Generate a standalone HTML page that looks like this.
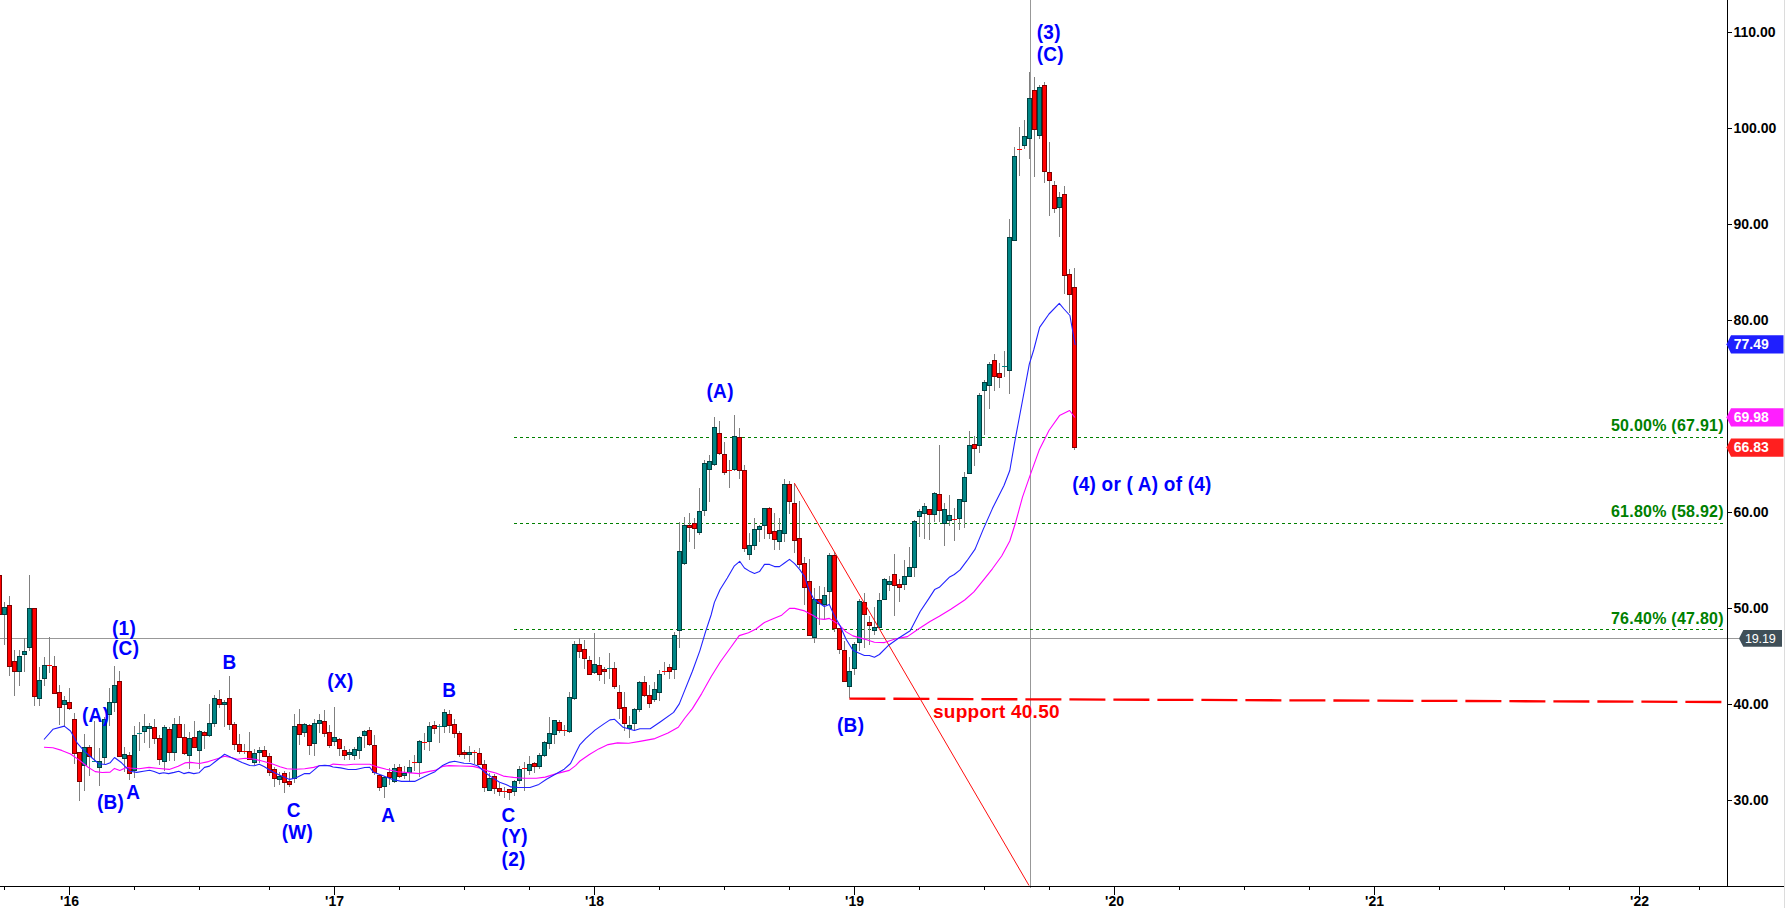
<!DOCTYPE html><html><head><meta charset="utf-8"><title>chart</title><style>
html,body{margin:0;padding:0;background:#fff;}body{width:1786px;height:908px;overflow:hidden;}
svg{display:block;font-family:"Liberation Sans",sans-serif;}
.b{font-weight:bold;font-size:19px;fill:#0000ff;letter-spacing:0.3px}
.g{font-weight:bold;font-size:16px;fill:#008000;letter-spacing:0.25px}
.ax{font-weight:bold;font-size:14px;fill:#000}
.w{font-weight:bold;font-size:14px;fill:#fff}
</style></head><body>
<svg width="1786" height="908" viewBox="0 0 1786 908">
<rect width="1786" height="908" fill="#fff"/>
<rect x="1784" y="0" width="1" height="908" fill="#dcdcdc"/>
<g shape-rendering="crispEdges">
<rect x="0" y="638" width="1739" height="1" fill="#989898"/>
<rect x="1030" y="0" width="1" height="888" fill="#989898"/>
<line x1="514" y1="437.5" x2="1725" y2="437.5" stroke="#008000" stroke-width="1" stroke-dasharray="3 3"/>
<line x1="514" y1="523.5" x2="1725" y2="523.5" stroke="#008000" stroke-width="1" stroke-dasharray="3 3"/>
<line x1="514" y1="629.5" x2="1725" y2="629.5" stroke="#008000" stroke-width="1" stroke-dasharray="3 3"/>
</g>
<g shape-rendering="crispEdges" fill="#808080"><rect x="4" y="602" width="1" height="43"/><rect x="9" y="596" width="1" height="80"/><rect x="14" y="650" width="1" height="46"/><rect x="19" y="650" width="1" height="36"/><rect x="24" y="638" width="1" height="34"/><rect x="29" y="575" width="1" height="76"/><rect x="34" y="608" width="1" height="98"/><rect x="39" y="667" width="1" height="39"/><rect x="44" y="657" width="1" height="29"/><rect x="49" y="637" width="1" height="36"/><rect x="54" y="656" width="1" height="38"/><rect x="59" y="685" width="1" height="40"/><rect x="64" y="696" width="1" height="30"/><rect x="69" y="688" width="1" height="22"/><rect x="74" y="713" width="1" height="51"/><rect x="79" y="752" width="1" height="49"/><rect x="84" y="734" width="1" height="57"/><rect x="89" y="745" width="1" height="31"/><rect x="94" y="721" width="1" height="40"/><rect x="99" y="748" width="1" height="38"/><rect x="104" y="717" width="1" height="47"/><rect x="109" y="688" width="1" height="38"/><rect x="114" y="666" width="1" height="46"/><rect x="119" y="671" width="1" height="86"/><rect x="124" y="747" width="1" height="25"/><rect x="129" y="752" width="1" height="28"/><rect x="134" y="726" width="1" height="52"/><rect x="139" y="722" width="1" height="29"/><rect x="144" y="714" width="1" height="29"/><rect x="149" y="723" width="1" height="25"/><rect x="154" y="719" width="1" height="25"/><rect x="159" y="735" width="1" height="30"/><rect x="164" y="725" width="1" height="46"/><rect x="169" y="727" width="1" height="34"/><rect x="174" y="718" width="1" height="43"/><rect x="179" y="716" width="1" height="22"/><rect x="184" y="724" width="1" height="31"/><rect x="189" y="732" width="1" height="37"/><rect x="194" y="721" width="1" height="27"/><rect x="199" y="730" width="1" height="39"/><rect x="204" y="731" width="1" height="18"/><rect x="209" y="704" width="1" height="33"/><rect x="214" y="695" width="1" height="32"/><rect x="219" y="690" width="1" height="18"/><rect x="224" y="700" width="1" height="27"/><rect x="229" y="676" width="1" height="54"/><rect x="234" y="722" width="1" height="28"/><rect x="239" y="734" width="1" height="20"/><rect x="244" y="744" width="1" height="10"/><rect x="249" y="732" width="1" height="27"/><rect x="254" y="749" width="1" height="16"/><rect x="259" y="747" width="1" height="16"/><rect x="264" y="746" width="1" height="11"/><rect x="269" y="753" width="1" height="23"/><rect x="274" y="767" width="1" height="20"/><rect x="279" y="772" width="1" height="13"/><rect x="284" y="771" width="1" height="22"/><rect x="289" y="772" width="1" height="15"/><rect x="294" y="714" width="1" height="69"/><rect x="299" y="709" width="1" height="36"/><rect x="304" y="723" width="1" height="14"/><rect x="309" y="724" width="1" height="31"/><rect x="314" y="719" width="1" height="37"/><rect x="319" y="714" width="1" height="19"/><rect x="324" y="710" width="1" height="27"/><rect x="329" y="725" width="1" height="23"/><rect x="334" y="707" width="1" height="39"/><rect x="339" y="738" width="1" height="18"/><rect x="344" y="746" width="1" height="14"/><rect x="349" y="749" width="1" height="11"/><rect x="354" y="747" width="1" height="13"/><rect x="359" y="736" width="1" height="23"/><rect x="364" y="730" width="1" height="18"/><rect x="369" y="727" width="1" height="19"/><rect x="374" y="735" width="1" height="40"/><rect x="379" y="775" width="1" height="16"/><rect x="384" y="776" width="1" height="22"/><rect x="389" y="768" width="1" height="17"/><rect x="394" y="764" width="1" height="19"/><rect x="399" y="764" width="1" height="14"/><rect x="404" y="766" width="1" height="13"/><rect x="409" y="760" width="1" height="21"/><rect x="414" y="755" width="1" height="16"/><rect x="419" y="740" width="1" height="37"/><rect x="424" y="733" width="1" height="17"/><rect x="429" y="722" width="1" height="29"/><rect x="434" y="721" width="1" height="13"/><rect x="439" y="724" width="1" height="19"/><rect x="444" y="709" width="1" height="24"/><rect x="449" y="710" width="1" height="23"/><rect x="454" y="719" width="1" height="19"/><rect x="459" y="731" width="1" height="26"/><rect x="464" y="750" width="1" height="9"/><rect x="469" y="746" width="1" height="16"/><rect x="474" y="750" width="1" height="14"/><rect x="479" y="748" width="1" height="17"/><rect x="484" y="760" width="1" height="32"/><rect x="489" y="773" width="1" height="17"/><rect x="494" y="774" width="1" height="20"/><rect x="499" y="783" width="1" height="13"/><rect x="504" y="787" width="1" height="11"/><rect x="509" y="789" width="1" height="11"/><rect x="514" y="780" width="1" height="16"/><rect x="519" y="766" width="1" height="18"/><rect x="524" y="762" width="1" height="29"/><rect x="529" y="756" width="1" height="19"/><rect x="534" y="762" width="1" height="11"/><rect x="539" y="753" width="1" height="16"/><rect x="544" y="741" width="1" height="16"/><rect x="549" y="717" width="1" height="32"/><rect x="554" y="720" width="1" height="24"/><rect x="559" y="720" width="1" height="13"/><rect x="564" y="725" width="1" height="11"/><rect x="569" y="692" width="1" height="41"/><rect x="574" y="641" width="1" height="59"/><rect x="579" y="638" width="1" height="20"/><rect x="584" y="640" width="1" height="29"/><rect x="589" y="656" width="1" height="18"/><rect x="594" y="633" width="1" height="41"/><rect x="599" y="657" width="1" height="24"/><rect x="604" y="667" width="1" height="17"/><rect x="609" y="653" width="1" height="26"/><rect x="614" y="662" width="1" height="27"/><rect x="619" y="685" width="1" height="34"/><rect x="624" y="692" width="1" height="39"/><rect x="629" y="716" width="1" height="22"/><rect x="634" y="708" width="1" height="22"/><rect x="639" y="681" width="1" height="31"/><rect x="644" y="676" width="1" height="21"/><rect x="649" y="685" width="1" height="23"/><rect x="654" y="682" width="1" height="20"/><rect x="659" y="670" width="1" height="31"/><rect x="664" y="662" width="1" height="13"/><rect x="669" y="664" width="1" height="15"/><rect x="674" y="632" width="1" height="47"/><rect x="679" y="522" width="1" height="126"/><rect x="684" y="517" width="1" height="48"/><rect x="689" y="513" width="1" height="29"/><rect x="694" y="518" width="1" height="31"/><rect x="699" y="488" width="1" height="47"/><rect x="704" y="460" width="1" height="56"/><rect x="709" y="455" width="1" height="47"/><rect x="714" y="417" width="1" height="49"/><rect x="719" y="421" width="1" height="34"/><rect x="724" y="442" width="1" height="33"/><rect x="729" y="460" width="1" height="28"/><rect x="734" y="415" width="1" height="56"/><rect x="739" y="428" width="1" height="51"/><rect x="744" y="465" width="1" height="87"/><rect x="749" y="533" width="1" height="27"/><rect x="754" y="518" width="1" height="32"/><rect x="759" y="525" width="1" height="17"/><rect x="764" y="508" width="1" height="31"/><rect x="769" y="507" width="1" height="32"/><rect x="774" y="513" width="1" height="37"/><rect x="779" y="518" width="1" height="32"/><rect x="784" y="479" width="1" height="63"/><rect x="789" y="481" width="1" height="33"/><rect x="794" y="484" width="1" height="69"/><rect x="799" y="501" width="1" height="67"/><rect x="804" y="557" width="1" height="48"/><rect x="809" y="559" width="1" height="76"/><rect x="814" y="588" width="1" height="55"/><rect x="819" y="586" width="1" height="39"/><rect x="824" y="587" width="1" height="32"/><rect x="829" y="553" width="1" height="52"/><rect x="834" y="552" width="1" height="80"/><rect x="839" y="628" width="1" height="26"/><rect x="844" y="641" width="1" height="41"/><rect x="849" y="657" width="1" height="41"/><rect x="854" y="642" width="1" height="33"/><rect x="859" y="599" width="1" height="52"/><rect x="864" y="593" width="1" height="55"/><rect x="869" y="616" width="1" height="29"/><rect x="874" y="607" width="1" height="28"/><rect x="879" y="593" width="1" height="35"/><rect x="884" y="578" width="1" height="22"/><rect x="889" y="576" width="1" height="15"/><rect x="894" y="554" width="1" height="62"/><rect x="899" y="579" width="1" height="23"/><rect x="904" y="560" width="1" height="30"/><rect x="909" y="547" width="1" height="29"/><rect x="914" y="520" width="1" height="57"/><rect x="919" y="509" width="1" height="28"/><rect x="924" y="503" width="1" height="36"/><rect x="929" y="509" width="1" height="31"/><rect x="934" y="492" width="1" height="30"/><rect x="939" y="445" width="1" height="77"/><rect x="944" y="503" width="1" height="43"/><rect x="949" y="495" width="1" height="31"/><rect x="954" y="508" width="1" height="33"/><rect x="959" y="499" width="1" height="31"/><rect x="964" y="472" width="1" height="56"/><rect x="969" y="431" width="1" height="43"/><rect x="974" y="436" width="1" height="30"/><rect x="979" y="393" width="1" height="60"/><rect x="984" y="380" width="1" height="55"/><rect x="989" y="362" width="1" height="47"/><rect x="994" y="354" width="1" height="37"/><rect x="999" y="363" width="1" height="25"/><rect x="1004" y="351" width="1" height="26"/><rect x="1009" y="219" width="1" height="175"/><rect x="1014" y="147" width="1" height="94"/><rect x="1019" y="127" width="1" height="49"/><rect x="1024" y="120" width="1" height="29"/><rect x="1029" y="72" width="1" height="87"/><rect x="1034" y="77" width="1" height="100"/><rect x="1039" y="85" width="1" height="54"/><rect x="1044" y="82" width="1" height="101"/><rect x="1049" y="142" width="1" height="74"/><rect x="1054" y="181" width="1" height="32"/><rect x="1059" y="192" width="1" height="45"/><rect x="1064" y="186" width="1" height="108"/><rect x="1069" y="269" width="1" height="44"/><rect x="1074" y="268" width="1" height="182"/></g>
<g shape-rendering="crispEdges"><rect x="-3" y="575" width="5" height="40" fill="#800000"/><rect x="-2" y="576" width="3" height="38" fill="#ff0000"/><rect x="2" y="607" width="5" height="8" fill="#004040"/><rect x="3" y="608" width="3" height="6" fill="#008585"/><rect x="7" y="605" width="5" height="62" fill="#800000"/><rect x="8" y="606" width="3" height="60" fill="#ff0000"/><rect x="12" y="661" width="5" height="11" fill="#800000"/><rect x="13" y="662" width="3" height="9" fill="#ff0000"/><rect x="17" y="656" width="5" height="16" fill="#004040"/><rect x="18" y="657" width="3" height="14" fill="#008585"/><rect x="22" y="651" width="5" height="4" fill="#004040"/><rect x="23" y="652" width="3" height="2" fill="#008585"/><rect x="27" y="608" width="5" height="40" fill="#004040"/><rect x="28" y="609" width="3" height="38" fill="#008585"/><rect x="32" y="608" width="5" height="89" fill="#800000"/><rect x="33" y="609" width="3" height="87" fill="#ff0000"/><rect x="37" y="680" width="5" height="19" fill="#004040"/><rect x="38" y="681" width="3" height="17" fill="#008585"/><rect x="42" y="665" width="5" height="14" fill="#004040"/><rect x="43" y="666" width="3" height="12" fill="#008585"/><rect x="47" y="665" width="5" height="1" fill="#ff0000"/><rect x="52" y="666" width="5" height="28" fill="#800000"/><rect x="53" y="667" width="3" height="26" fill="#ff0000"/><rect x="57" y="692" width="5" height="16" fill="#800000"/><rect x="58" y="693" width="3" height="14" fill="#ff0000"/><rect x="62" y="700" width="5" height="5" fill="#004040"/><rect x="63" y="701" width="3" height="3" fill="#008585"/><rect x="67" y="702" width="5" height="7" fill="#800000"/><rect x="68" y="703" width="3" height="5" fill="#ff0000"/><rect x="72" y="719" width="5" height="35" fill="#800000"/><rect x="73" y="720" width="3" height="33" fill="#ff0000"/><rect x="77" y="752" width="5" height="30" fill="#800000"/><rect x="78" y="753" width="3" height="28" fill="#ff0000"/><rect x="82" y="747" width="5" height="19" fill="#004040"/><rect x="83" y="748" width="3" height="17" fill="#008585"/><rect x="87" y="747" width="5" height="10" fill="#800000"/><rect x="88" y="748" width="3" height="8" fill="#ff0000"/><rect x="92" y="761" width="5" height="1" fill="#008585"/><rect x="97" y="761" width="5" height="7" fill="#004040"/><rect x="98" y="762" width="3" height="5" fill="#008585"/><rect x="102" y="719" width="5" height="39" fill="#004040"/><rect x="103" y="720" width="3" height="37" fill="#008585"/><rect x="107" y="702" width="5" height="13" fill="#004040"/><rect x="108" y="703" width="3" height="11" fill="#008585"/><rect x="112" y="685" width="5" height="18" fill="#004040"/><rect x="113" y="686" width="3" height="16" fill="#008585"/><rect x="117" y="681" width="5" height="76" fill="#800000"/><rect x="118" y="682" width="3" height="74" fill="#ff0000"/><rect x="122" y="754" width="5" height="5" fill="#004040"/><rect x="123" y="755" width="3" height="3" fill="#008585"/><rect x="127" y="755" width="5" height="19" fill="#800000"/><rect x="128" y="756" width="3" height="17" fill="#ff0000"/><rect x="132" y="735" width="5" height="36" fill="#004040"/><rect x="133" y="736" width="3" height="34" fill="#008585"/><rect x="137" y="733" width="5" height="1" fill="#008585"/><rect x="142" y="726" width="5" height="6" fill="#004040"/><rect x="143" y="727" width="3" height="4" fill="#008585"/><rect x="147" y="726" width="5" height="3" fill="#004040"/><rect x="148" y="727" width="3" height="1" fill="#008585"/><rect x="152" y="727" width="5" height="12" fill="#800000"/><rect x="153" y="728" width="3" height="10" fill="#ff0000"/><rect x="157" y="738" width="5" height="22" fill="#800000"/><rect x="158" y="739" width="3" height="20" fill="#ff0000"/><rect x="162" y="727" width="5" height="35" fill="#004040"/><rect x="163" y="728" width="3" height="33" fill="#008585"/><rect x="167" y="729" width="5" height="24" fill="#800000"/><rect x="168" y="730" width="3" height="22" fill="#ff0000"/><rect x="172" y="724" width="5" height="29" fill="#004040"/><rect x="173" y="725" width="3" height="27" fill="#008585"/><rect x="177" y="724" width="5" height="14" fill="#800000"/><rect x="178" y="725" width="3" height="12" fill="#ff0000"/><rect x="182" y="737" width="5" height="17" fill="#800000"/><rect x="183" y="738" width="3" height="15" fill="#ff0000"/><rect x="187" y="738" width="5" height="18" fill="#004040"/><rect x="188" y="739" width="3" height="16" fill="#008585"/><rect x="192" y="737" width="5" height="11" fill="#800000"/><rect x="193" y="738" width="3" height="9" fill="#ff0000"/><rect x="197" y="731" width="5" height="20" fill="#004040"/><rect x="198" y="732" width="3" height="18" fill="#008585"/><rect x="202" y="732" width="5" height="4" fill="#800000"/><rect x="203" y="733" width="3" height="2" fill="#ff0000"/><rect x="207" y="723" width="5" height="13" fill="#004040"/><rect x="208" y="724" width="3" height="11" fill="#008585"/><rect x="212" y="698" width="5" height="26" fill="#004040"/><rect x="213" y="699" width="3" height="24" fill="#008585"/><rect x="217" y="699" width="5" height="6" fill="#800000"/><rect x="218" y="700" width="3" height="4" fill="#ff0000"/><rect x="222" y="702" width="5" height="3" fill="#004040"/><rect x="223" y="703" width="3" height="1" fill="#008585"/><rect x="227" y="698" width="5" height="27" fill="#800000"/><rect x="228" y="699" width="3" height="25" fill="#ff0000"/><rect x="232" y="724" width="5" height="21" fill="#800000"/><rect x="233" y="725" width="3" height="19" fill="#ff0000"/><rect x="237" y="744" width="5" height="8" fill="#800000"/><rect x="238" y="745" width="3" height="6" fill="#ff0000"/><rect x="242" y="751" width="5" height="1" fill="#ff0000"/><rect x="247" y="751" width="5" height="9" fill="#800000"/><rect x="248" y="752" width="3" height="7" fill="#ff0000"/><rect x="252" y="753" width="5" height="10" fill="#004040"/><rect x="253" y="754" width="3" height="8" fill="#008585"/><rect x="257" y="750" width="5" height="3" fill="#004040"/><rect x="258" y="751" width="3" height="1" fill="#008585"/><rect x="262" y="750" width="5" height="7" fill="#800000"/><rect x="263" y="751" width="3" height="5" fill="#ff0000"/><rect x="267" y="756" width="5" height="17" fill="#800000"/><rect x="268" y="757" width="3" height="15" fill="#ff0000"/><rect x="272" y="769" width="5" height="10" fill="#800000"/><rect x="273" y="770" width="3" height="8" fill="#ff0000"/><rect x="277" y="776" width="5" height="4" fill="#004040"/><rect x="278" y="777" width="3" height="2" fill="#008585"/><rect x="282" y="773" width="5" height="10" fill="#800000"/><rect x="283" y="774" width="3" height="8" fill="#ff0000"/><rect x="287" y="781" width="5" height="4" fill="#800000"/><rect x="288" y="782" width="3" height="2" fill="#ff0000"/><rect x="292" y="726" width="5" height="53" fill="#004040"/><rect x="293" y="727" width="3" height="51" fill="#008585"/><rect x="297" y="724" width="5" height="11" fill="#800000"/><rect x="298" y="725" width="3" height="9" fill="#ff0000"/><rect x="302" y="724" width="5" height="9" fill="#004040"/><rect x="303" y="725" width="3" height="7" fill="#008585"/><rect x="307" y="725" width="5" height="21" fill="#800000"/><rect x="308" y="726" width="3" height="19" fill="#ff0000"/><rect x="312" y="723" width="5" height="21" fill="#004040"/><rect x="313" y="724" width="3" height="19" fill="#008585"/><rect x="317" y="720" width="5" height="4" fill="#004040"/><rect x="318" y="721" width="3" height="2" fill="#008585"/><rect x="322" y="721" width="5" height="13" fill="#800000"/><rect x="323" y="722" width="3" height="11" fill="#ff0000"/><rect x="327" y="732" width="5" height="14" fill="#800000"/><rect x="328" y="733" width="3" height="12" fill="#ff0000"/><rect x="332" y="737" width="5" height="5" fill="#004040"/><rect x="333" y="738" width="3" height="3" fill="#008585"/><rect x="337" y="739" width="5" height="10" fill="#800000"/><rect x="338" y="740" width="3" height="8" fill="#ff0000"/><rect x="342" y="750" width="5" height="6" fill="#800000"/><rect x="343" y="751" width="3" height="4" fill="#ff0000"/><rect x="347" y="752" width="5" height="3" fill="#004040"/><rect x="348" y="753" width="3" height="1" fill="#008585"/><rect x="352" y="749" width="5" height="7" fill="#004040"/><rect x="353" y="750" width="3" height="5" fill="#008585"/><rect x="357" y="737" width="5" height="14" fill="#004040"/><rect x="358" y="738" width="3" height="12" fill="#008585"/><rect x="362" y="731" width="5" height="5" fill="#004040"/><rect x="363" y="732" width="3" height="3" fill="#008585"/><rect x="367" y="730" width="5" height="15" fill="#800000"/><rect x="368" y="731" width="3" height="13" fill="#ff0000"/><rect x="372" y="745" width="5" height="28" fill="#800000"/><rect x="373" y="746" width="3" height="26" fill="#ff0000"/><rect x="377" y="775" width="5" height="13" fill="#800000"/><rect x="378" y="776" width="3" height="11" fill="#ff0000"/><rect x="382" y="777" width="5" height="10" fill="#004040"/><rect x="383" y="778" width="3" height="8" fill="#008585"/><rect x="387" y="772" width="5" height="6" fill="#800000"/><rect x="388" y="773" width="3" height="4" fill="#ff0000"/><rect x="392" y="768" width="5" height="14" fill="#004040"/><rect x="393" y="769" width="3" height="12" fill="#008585"/><rect x="397" y="767" width="5" height="10" fill="#800000"/><rect x="398" y="768" width="3" height="8" fill="#ff0000"/><rect x="402" y="773" width="5" height="3" fill="#004040"/><rect x="403" y="774" width="3" height="1" fill="#008585"/><rect x="407" y="767" width="5" height="6" fill="#004040"/><rect x="408" y="768" width="3" height="4" fill="#008585"/><rect x="412" y="762" width="5" height="1" fill="#ff0000"/><rect x="417" y="741" width="5" height="22" fill="#004040"/><rect x="418" y="742" width="3" height="20" fill="#008585"/><rect x="422" y="742" width="5" height="1" fill="#ff0000"/><rect x="427" y="726" width="5" height="16" fill="#004040"/><rect x="428" y="727" width="3" height="14" fill="#008585"/><rect x="432" y="725" width="5" height="4" fill="#800000"/><rect x="433" y="726" width="3" height="2" fill="#ff0000"/><rect x="437" y="726" width="5" height="1" fill="#008585"/><rect x="442" y="712" width="5" height="15" fill="#004040"/><rect x="443" y="713" width="3" height="13" fill="#008585"/><rect x="447" y="714" width="5" height="12" fill="#800000"/><rect x="448" y="715" width="3" height="10" fill="#ff0000"/><rect x="452" y="724" width="5" height="10" fill="#800000"/><rect x="453" y="725" width="3" height="8" fill="#ff0000"/><rect x="457" y="733" width="5" height="22" fill="#800000"/><rect x="458" y="734" width="3" height="20" fill="#ff0000"/><rect x="462" y="752" width="5" height="3" fill="#800000"/><rect x="463" y="753" width="3" height="1" fill="#ff0000"/><rect x="467" y="752" width="5" height="3" fill="#004040"/><rect x="468" y="753" width="3" height="1" fill="#008585"/><rect x="472" y="752" width="5" height="1" fill="#ff0000"/><rect x="477" y="753" width="5" height="12" fill="#800000"/><rect x="478" y="754" width="3" height="10" fill="#ff0000"/><rect x="482" y="764" width="5" height="24" fill="#800000"/><rect x="483" y="765" width="3" height="22" fill="#ff0000"/><rect x="487" y="778" width="5" height="13" fill="#004040"/><rect x="488" y="779" width="3" height="11" fill="#008585"/><rect x="492" y="776" width="5" height="13" fill="#800000"/><rect x="493" y="777" width="3" height="11" fill="#ff0000"/><rect x="497" y="788" width="5" height="4" fill="#800000"/><rect x="498" y="789" width="3" height="2" fill="#ff0000"/><rect x="502" y="791" width="5" height="1" fill="#ff0000"/><rect x="507" y="789" width="5" height="4" fill="#800000"/><rect x="508" y="790" width="3" height="2" fill="#ff0000"/><rect x="512" y="781" width="5" height="11" fill="#004040"/><rect x="513" y="782" width="3" height="9" fill="#008585"/><rect x="517" y="769" width="5" height="12" fill="#004040"/><rect x="518" y="770" width="3" height="10" fill="#008585"/><rect x="522" y="768" width="5" height="1" fill="#ff0000"/><rect x="527" y="764" width="5" height="7" fill="#004040"/><rect x="528" y="765" width="3" height="5" fill="#008585"/><rect x="532" y="763" width="5" height="4" fill="#800000"/><rect x="533" y="764" width="3" height="2" fill="#ff0000"/><rect x="537" y="755" width="5" height="12" fill="#004040"/><rect x="538" y="756" width="3" height="10" fill="#008585"/><rect x="542" y="742" width="5" height="14" fill="#004040"/><rect x="543" y="743" width="3" height="12" fill="#008585"/><rect x="547" y="733" width="5" height="11" fill="#004040"/><rect x="548" y="734" width="3" height="9" fill="#008585"/><rect x="552" y="720" width="5" height="15" fill="#004040"/><rect x="553" y="721" width="3" height="13" fill="#008585"/><rect x="557" y="722" width="5" height="9" fill="#800000"/><rect x="558" y="723" width="3" height="7" fill="#ff0000"/><rect x="562" y="730" width="5" height="1" fill="#ff0000"/><rect x="567" y="697" width="5" height="35" fill="#004040"/><rect x="568" y="698" width="3" height="33" fill="#008585"/><rect x="572" y="644" width="5" height="55" fill="#004040"/><rect x="573" y="645" width="3" height="53" fill="#008585"/><rect x="577" y="644" width="5" height="8" fill="#800000"/><rect x="578" y="645" width="3" height="6" fill="#ff0000"/><rect x="582" y="649" width="5" height="10" fill="#800000"/><rect x="583" y="650" width="3" height="8" fill="#ff0000"/><rect x="587" y="660" width="5" height="15" fill="#800000"/><rect x="588" y="661" width="3" height="13" fill="#ff0000"/><rect x="592" y="664" width="5" height="9" fill="#004040"/><rect x="593" y="665" width="3" height="7" fill="#008585"/><rect x="597" y="665" width="5" height="10" fill="#800000"/><rect x="598" y="666" width="3" height="8" fill="#ff0000"/><rect x="602" y="669" width="5" height="3" fill="#800000"/><rect x="603" y="670" width="3" height="1" fill="#ff0000"/><rect x="607" y="668" width="5" height="1" fill="#008585"/><rect x="612" y="668" width="5" height="19" fill="#800000"/><rect x="613" y="669" width="3" height="17" fill="#ff0000"/><rect x="617" y="692" width="5" height="17" fill="#800000"/><rect x="618" y="693" width="3" height="15" fill="#ff0000"/><rect x="622" y="707" width="5" height="17" fill="#800000"/><rect x="623" y="708" width="3" height="15" fill="#ff0000"/><rect x="627" y="725" width="5" height="4" fill="#004040"/><rect x="628" y="726" width="3" height="2" fill="#008585"/><rect x="632" y="709" width="5" height="15" fill="#004040"/><rect x="633" y="710" width="3" height="13" fill="#008585"/><rect x="637" y="682" width="5" height="28" fill="#004040"/><rect x="638" y="683" width="3" height="26" fill="#008585"/><rect x="642" y="682" width="5" height="14" fill="#800000"/><rect x="643" y="683" width="3" height="12" fill="#ff0000"/><rect x="647" y="695" width="5" height="9" fill="#800000"/><rect x="648" y="696" width="3" height="7" fill="#ff0000"/><rect x="652" y="689" width="5" height="11" fill="#004040"/><rect x="653" y="690" width="3" height="9" fill="#008585"/><rect x="657" y="674" width="5" height="19" fill="#004040"/><rect x="658" y="675" width="3" height="17" fill="#008585"/><rect x="662" y="671" width="5" height="1" fill="#ff0000"/><rect x="667" y="667" width="5" height="5" fill="#800000"/><rect x="668" y="668" width="3" height="3" fill="#ff0000"/><rect x="672" y="635" width="5" height="35" fill="#004040"/><rect x="673" y="636" width="3" height="33" fill="#008585"/><rect x="677" y="551" width="5" height="80" fill="#004040"/><rect x="678" y="552" width="3" height="78" fill="#008585"/><rect x="682" y="525" width="5" height="39" fill="#004040"/><rect x="683" y="526" width="3" height="37" fill="#008585"/><rect x="687" y="525" width="5" height="3" fill="#800000"/><rect x="688" y="526" width="3" height="1" fill="#ff0000"/><rect x="692" y="523" width="5" height="6" fill="#800000"/><rect x="693" y="524" width="3" height="4" fill="#ff0000"/><rect x="697" y="511" width="5" height="22" fill="#004040"/><rect x="698" y="512" width="3" height="20" fill="#008585"/><rect x="702" y="463" width="5" height="48" fill="#004040"/><rect x="703" y="464" width="3" height="46" fill="#008585"/><rect x="707" y="461" width="5" height="9" fill="#004040"/><rect x="708" y="462" width="3" height="7" fill="#008585"/><rect x="712" y="427" width="5" height="38" fill="#004040"/><rect x="713" y="428" width="3" height="36" fill="#008585"/><rect x="717" y="433" width="5" height="21" fill="#800000"/><rect x="718" y="434" width="3" height="19" fill="#ff0000"/><rect x="722" y="454" width="5" height="19" fill="#800000"/><rect x="723" y="455" width="3" height="17" fill="#ff0000"/><rect x="727" y="470" width="5" height="1" fill="#ff0000"/><rect x="732" y="436" width="5" height="34" fill="#004040"/><rect x="733" y="437" width="3" height="32" fill="#008585"/><rect x="737" y="437" width="5" height="34" fill="#800000"/><rect x="738" y="438" width="3" height="32" fill="#ff0000"/><rect x="742" y="470" width="5" height="79" fill="#800000"/><rect x="743" y="471" width="3" height="77" fill="#ff0000"/><rect x="747" y="545" width="5" height="10" fill="#004040"/><rect x="748" y="546" width="3" height="8" fill="#008585"/><rect x="752" y="529" width="5" height="17" fill="#004040"/><rect x="753" y="530" width="3" height="15" fill="#008585"/><rect x="757" y="526" width="5" height="4" fill="#004040"/><rect x="758" y="527" width="3" height="2" fill="#008585"/><rect x="762" y="508" width="5" height="18" fill="#004040"/><rect x="763" y="509" width="3" height="16" fill="#008585"/><rect x="767" y="508" width="5" height="26" fill="#800000"/><rect x="768" y="509" width="3" height="24" fill="#ff0000"/><rect x="772" y="531" width="5" height="9" fill="#800000"/><rect x="773" y="532" width="3" height="7" fill="#ff0000"/><rect x="777" y="530" width="5" height="12" fill="#004040"/><rect x="778" y="531" width="3" height="10" fill="#008585"/><rect x="782" y="484" width="5" height="50" fill="#004040"/><rect x="783" y="485" width="3" height="48" fill="#008585"/><rect x="787" y="484" width="5" height="18" fill="#800000"/><rect x="788" y="485" width="3" height="16" fill="#ff0000"/><rect x="792" y="503" width="5" height="38" fill="#800000"/><rect x="793" y="504" width="3" height="36" fill="#ff0000"/><rect x="797" y="538" width="5" height="27" fill="#800000"/><rect x="798" y="539" width="3" height="25" fill="#ff0000"/><rect x="802" y="563" width="5" height="25" fill="#800000"/><rect x="803" y="564" width="3" height="23" fill="#ff0000"/><rect x="807" y="581" width="5" height="55" fill="#800000"/><rect x="808" y="582" width="3" height="53" fill="#ff0000"/><rect x="812" y="599" width="5" height="39" fill="#004040"/><rect x="813" y="600" width="3" height="37" fill="#008585"/><rect x="817" y="599" width="5" height="5" fill="#800000"/><rect x="818" y="600" width="3" height="3" fill="#ff0000"/><rect x="822" y="595" width="5" height="10" fill="#004040"/><rect x="823" y="596" width="3" height="8" fill="#008585"/><rect x="827" y="555" width="5" height="37" fill="#004040"/><rect x="828" y="556" width="3" height="35" fill="#008585"/><rect x="832" y="555" width="5" height="74" fill="#800000"/><rect x="833" y="556" width="3" height="72" fill="#ff0000"/><rect x="837" y="628" width="5" height="22" fill="#800000"/><rect x="838" y="629" width="3" height="20" fill="#ff0000"/><rect x="842" y="650" width="5" height="32" fill="#800000"/><rect x="843" y="651" width="3" height="30" fill="#ff0000"/><rect x="847" y="671" width="5" height="16" fill="#004040"/><rect x="848" y="672" width="3" height="14" fill="#008585"/><rect x="852" y="644" width="5" height="25" fill="#004040"/><rect x="853" y="645" width="3" height="23" fill="#008585"/><rect x="857" y="601" width="5" height="42" fill="#004040"/><rect x="858" y="602" width="3" height="40" fill="#008585"/><rect x="862" y="602" width="5" height="13" fill="#800000"/><rect x="863" y="603" width="3" height="11" fill="#ff0000"/><rect x="867" y="622" width="5" height="4" fill="#800000"/><rect x="868" y="623" width="3" height="2" fill="#ff0000"/><rect x="872" y="627" width="5" height="4" fill="#004040"/><rect x="873" y="628" width="3" height="2" fill="#008585"/><rect x="877" y="600" width="5" height="28" fill="#004040"/><rect x="878" y="601" width="3" height="26" fill="#008585"/><rect x="882" y="579" width="5" height="21" fill="#004040"/><rect x="883" y="580" width="3" height="19" fill="#008585"/><rect x="887" y="581" width="5" height="4" fill="#004040"/><rect x="888" y="582" width="3" height="2" fill="#008585"/><rect x="892" y="574" width="5" height="12" fill="#800000"/><rect x="893" y="575" width="3" height="10" fill="#ff0000"/><rect x="897" y="584" width="5" height="4" fill="#800000"/><rect x="898" y="585" width="3" height="2" fill="#ff0000"/><rect x="902" y="576" width="5" height="9" fill="#004040"/><rect x="903" y="577" width="3" height="7" fill="#008585"/><rect x="907" y="567" width="5" height="10" fill="#004040"/><rect x="908" y="568" width="3" height="8" fill="#008585"/><rect x="912" y="521" width="5" height="47" fill="#004040"/><rect x="913" y="522" width="3" height="45" fill="#008585"/><rect x="917" y="511" width="5" height="6" fill="#004040"/><rect x="918" y="512" width="3" height="4" fill="#008585"/><rect x="922" y="506" width="5" height="8" fill="#004040"/><rect x="923" y="507" width="3" height="6" fill="#008585"/><rect x="927" y="509" width="5" height="6" fill="#800000"/><rect x="928" y="510" width="3" height="4" fill="#ff0000"/><rect x="932" y="493" width="5" height="22" fill="#004040"/><rect x="933" y="494" width="3" height="20" fill="#008585"/><rect x="937" y="494" width="5" height="17" fill="#800000"/><rect x="938" y="495" width="3" height="15" fill="#ff0000"/><rect x="942" y="509" width="5" height="15" fill="#004040"/><rect x="943" y="510" width="3" height="13" fill="#008585"/><rect x="947" y="515" width="5" height="6" fill="#004040"/><rect x="948" y="516" width="3" height="4" fill="#008585"/><rect x="952" y="519" width="5" height="1" fill="#ff0000"/><rect x="957" y="499" width="5" height="20" fill="#004040"/><rect x="958" y="500" width="3" height="18" fill="#008585"/><rect x="962" y="477" width="5" height="25" fill="#004040"/><rect x="963" y="478" width="3" height="23" fill="#008585"/><rect x="967" y="445" width="5" height="29" fill="#004040"/><rect x="968" y="446" width="3" height="27" fill="#008585"/><rect x="972" y="444" width="5" height="5" fill="#800000"/><rect x="973" y="445" width="3" height="3" fill="#ff0000"/><rect x="977" y="395" width="5" height="51" fill="#004040"/><rect x="978" y="396" width="3" height="49" fill="#008585"/><rect x="982" y="382" width="5" height="9" fill="#004040"/><rect x="983" y="383" width="3" height="7" fill="#008585"/><rect x="987" y="364" width="5" height="22" fill="#004040"/><rect x="988" y="365" width="3" height="20" fill="#008585"/><rect x="992" y="360" width="5" height="17" fill="#800000"/><rect x="993" y="361" width="3" height="15" fill="#ff0000"/><rect x="997" y="373" width="5" height="5" fill="#800000"/><rect x="998" y="374" width="3" height="3" fill="#ff0000"/><rect x="1002" y="366" width="5" height="1" fill="#008585"/><rect x="1007" y="237" width="5" height="134" fill="#004040"/><rect x="1008" y="238" width="3" height="132" fill="#008585"/><rect x="1012" y="156" width="5" height="85" fill="#004040"/><rect x="1013" y="157" width="3" height="83" fill="#008585"/><rect x="1017" y="149" width="5" height="1" fill="#ff0000"/><rect x="1022" y="136" width="5" height="10" fill="#004040"/><rect x="1023" y="137" width="3" height="8" fill="#008585"/><rect x="1027" y="98" width="5" height="41" fill="#004040"/><rect x="1028" y="99" width="3" height="39" fill="#008585"/><rect x="1032" y="90" width="5" height="40" fill="#800000"/><rect x="1033" y="91" width="3" height="38" fill="#ff0000"/><rect x="1037" y="87" width="5" height="49" fill="#004040"/><rect x="1038" y="88" width="3" height="47" fill="#008585"/><rect x="1042" y="85" width="5" height="87" fill="#800000"/><rect x="1043" y="86" width="3" height="85" fill="#ff0000"/><rect x="1047" y="172" width="5" height="9" fill="#800000"/><rect x="1048" y="173" width="3" height="7" fill="#ff0000"/><rect x="1052" y="185" width="5" height="24" fill="#800000"/><rect x="1053" y="186" width="3" height="22" fill="#ff0000"/><rect x="1057" y="197" width="5" height="11" fill="#004040"/><rect x="1058" y="198" width="3" height="9" fill="#008585"/><rect x="1062" y="194" width="5" height="82" fill="#800000"/><rect x="1063" y="195" width="3" height="80" fill="#ff0000"/><rect x="1067" y="274" width="5" height="21" fill="#800000"/><rect x="1068" y="275" width="3" height="19" fill="#ff0000"/><rect x="1072" y="287" width="5" height="161" fill="#800000"/><rect x="1073" y="288" width="3" height="159" fill="#ff0000"/></g>
<line x1="794.3" y1="483" x2="1029" y2="885.5" stroke="#ff0000" stroke-width="0.95"/>
<polyline points="44.0,747.3 52.9,747.8 61.7,750.4 70.5,754.0 79.3,760.1 88.1,767.2 95.2,771.6 102.2,772.5 110.1,772.1 114.5,768.4 119.8,770.4 126.9,767.2 130.0,768.0 139.0,768.7 149.0,767.4 159.1,768.5 169.2,769.4 178.2,766.3 184.9,762.9 190.5,762.4 199.4,763.5 208.4,761.6 217.3,758.7 224.6,756.2 230.8,757.5 237.5,759.3 245.3,758.2 253.2,759.0 262.1,761.0 271.1,763.5 280.0,766.8 286.8,768.7 295.7,769.3 304.7,768.7 313.7,767.4 320.4,765.5 330.0,765.5 333.1,764.1 345.7,765.0 353.3,764.3 369.8,764.3 376.1,766.6 386.3,769.2 397.6,771.7 407.8,772.6 419.2,773.6 429.3,771.4 435.0,770.4 442.6,766.4 448.9,765.6 460.3,766.0 473.0,766.4 479.3,767.9 488.2,771.1 495.8,773.0 503.4,776.1 513.5,777.4 523.7,778.3 536.3,778.3 545.2,777.1 556.6,773.6 569.3,770.4 575.6,765.6 580.0,761.0 589.4,754.5 598.7,748.9 608.1,744.6 617.5,742.9 628.7,743.3 639.9,741.4 654.9,738.6 668.0,733.0 678.3,727.3 684.9,718.0 692.4,708.6 701.7,693.6 711.1,676.8 720.4,661.8 729.8,648.7 739.2,635.6 748.5,632.8 756.0,629.0 764.4,622.5 773.1,618.8 781.7,615.2 789.5,608.4 794.6,608.4 804.6,610.9 813.2,615.5 818.6,618.7 824.3,619.4 829.3,618.4 838.6,624.4 845.8,631.6 852.9,635.9 864.4,639.1 874.4,642.3 884.4,642.6 895.9,638.7 907.4,636.6 918.8,628.7 930.0,621.5 939.3,616.2 950.8,609.2 964.7,600.0 973.9,591.9 983.2,580.3 992.4,568.8 1001.7,556.0 1009.8,541.0 1015.6,522.5 1022.5,497.1 1030.6,473.9 1039.2,450.1 1049.1,430.3 1059.5,415.6 1069.6,410.5 1074.9,417.5" fill="none" stroke="#ff00ff" stroke-width="1.1" stroke-linejoin="round"/>
<polyline points="44.0,739.5 52.9,729.3 64.3,726.1 70.5,731.0 77.5,743.4 84.6,751.3 91.6,757.5 98.7,763.7 105.7,764.5 110.1,762.8 114.5,757.5 121.6,762.8 130.0,771.3 136.7,772.4 143.4,771.3 149.6,770.2 154.1,771.5 159.1,773.6 163.6,772.7 168.6,773.6 174.2,772.4 178.7,771.3 183.8,773.6 188.8,772.4 193.8,773.6 198.9,772.8 204.5,767.4 209.5,766.1 215.1,761.8 224.6,754.3 230.8,757.3 242.0,762.4 249.8,765.5 254.3,765.7 259.3,764.3 264.4,766.8 270.0,770.2 275.6,773.2 280.0,775.2 285.7,777.7 289.6,779.4 295.7,778.0 304.7,773.6 309.7,773.6 319.2,765.7 324.8,765.4 330.0,765.9 333.1,767.0 340.7,767.9 348.3,769.5 355.9,769.5 364.7,767.5 369.8,767.3 373.6,772.3 381.2,774.9 387.5,777.4 392.6,779.5 401.5,781.4 414.7,781.4 421.7,778.0 429.3,774.2 435.0,771.7 442.6,765.4 448.9,762.4 454.6,761.3 464.1,763.2 470.5,763.5 478.1,766.0 485.7,773.0 492.0,777.4 499.6,782.2 505.9,784.6 511.0,786.9 518.6,787.5 530.0,787.5 538.9,784.4 546.5,779.3 556.6,773.6 564.2,769.2 570.5,763.5 576.8,750.8 580.0,744.6 585.6,738.6 595.0,730.1 604.3,723.6 610.0,719.9 614.6,719.3 623.1,727.3 634.3,730.5 639.9,728.7 650.2,728.7 660.5,721.7 673.6,712.4 679.3,703.9 684.9,689.9 692.4,671.2 699.9,650.6 705.5,631.8 711.1,615.0 714.4,602.4 720.1,589.5 727.3,578.0 734.4,565.8 739.7,561.3 744.4,568.0 750.2,571.6 754.5,573.4 759.5,571.6 764.5,564.4 769.5,564.4 774.5,566.6 779.5,566.6 784.5,563.0 789.5,559.4 794.6,563.7 799.6,569.4 804.6,576.6 808.9,589.5 813.2,598.1 817.2,601.5 824.3,606.5 829.3,604.4 834.3,615.8 840.1,625.8 845.8,638.7 852.9,650.2 858.7,653.0 864.4,655.5 869.4,655.5 874.4,657.3 879.4,654.5 888.7,645.2 898.8,638.0 910.2,630.8 920.2,611.5 928.8,598.6 934.6,589.6 939.3,587.3 949.7,576.9 954.3,574.5 960.1,569.9 967.0,560.7 975.1,549.1 983.2,529.4 992.4,508.6 1004.0,485.5 1009.8,470.5 1014.4,443.9 1016.1,434.7 1022.7,399.5 1029.3,364.2 1033.7,350.0 1039.6,327.4 1049.0,314.0 1059.3,303.3 1064.0,309.0 1069.9,315.5 1075.2,345.0" fill="none" stroke="#2222ff" stroke-width="1.1" stroke-linejoin="round"/>
<line x1="849.4" y1="698.6" x2="1721.4" y2="702" stroke="#ff0000" stroke-width="2.3" stroke-dasharray="36 8"/>
<g shape-rendering="crispEdges" fill="#000">
<rect x="1727" y="0" width="1" height="887"/>
<rect x="0" y="886" width="1784" height="1"/>
<rect x="1728" y="32" width="4" height="1"/>
<rect x="1728" y="128" width="4" height="1"/>
<rect x="1728" y="224" width="4" height="1"/>
<rect x="1728" y="320" width="4" height="1"/>
<rect x="1728" y="416" width="4" height="1"/>
<rect x="1728" y="512" width="4" height="1"/>
<rect x="1728" y="608" width="4" height="1"/>
<rect x="1728" y="704" width="4" height="1"/>
<rect x="1728" y="800" width="4" height="1"/>
<rect x="69" y="887" width="1" height="8"/>
<rect x="334" y="887" width="1" height="8"/>
<rect x="594" y="887" width="1" height="8"/>
<rect x="854" y="887" width="1" height="8"/>
<rect x="1114" y="887" width="1" height="8"/>
<rect x="1374" y="887" width="1" height="8"/>
<rect x="1639" y="887" width="1" height="8"/>
<rect x="4" y="887" width="1" height="3"/>
<rect x="134" y="887" width="1" height="3"/>
<rect x="199" y="887" width="1" height="3"/>
<rect x="269" y="887" width="1" height="3"/>
<rect x="399" y="887" width="1" height="3"/>
<rect x="464" y="887" width="1" height="3"/>
<rect x="529" y="887" width="1" height="3"/>
<rect x="659" y="887" width="1" height="3"/>
<rect x="724" y="887" width="1" height="3"/>
<rect x="789" y="887" width="1" height="3"/>
<rect x="919" y="887" width="1" height="3"/>
<rect x="984" y="887" width="1" height="3"/>
<rect x="1049" y="887" width="1" height="3"/>
<rect x="1179" y="887" width="1" height="3"/>
<rect x="1244" y="887" width="1" height="3"/>
<rect x="1309" y="887" width="1" height="3"/>
<rect x="1439" y="887" width="1" height="3"/>
<rect x="1504" y="887" width="1" height="3"/>
<rect x="1569" y="887" width="1" height="3"/>
<rect x="1699" y="887" width="1" height="3"/>
</g>
<text class="ax" x="1733.5" y="37">110.00</text>
<text class="ax" x="1733.5" y="133">100.00</text>
<text class="ax" x="1733.5" y="229">90.00</text>
<text class="ax" x="1733.5" y="325">80.00</text>
<text class="ax" x="1733.5" y="517">60.00</text>
<text class="ax" x="1733.5" y="613">50.00</text>
<text class="ax" x="1733.5" y="709">40.00</text>
<text class="ax" x="1733.5" y="805">30.00</text>
<text class="ax" x="69.5" y="905.7" text-anchor="middle">'16</text>
<text class="ax" x="334.5" y="905.7" text-anchor="middle">'17</text>
<text class="ax" x="594.5" y="905.7" text-anchor="middle">'18</text>
<text class="ax" x="854.5" y="905.7" text-anchor="middle">'19</text>
<text class="ax" x="1114.5" y="905.7" text-anchor="middle">'20</text>
<text class="ax" x="1374.5" y="905.7" text-anchor="middle">'21</text>
<text class="ax" x="1639.5" y="905.7" text-anchor="middle">'22</text>
<polygon points="1726.5,344.3 1731,335.3 1783.5,335.3 1783.5,353.6 1731,353.6" fill="#1f1fff"/>
<text class="w" x="1733.8" y="349.3">77.49</text>
<polygon points="1726.5,417.3 1731,408.3 1783.5,408.3 1783.5,426.6 1731,426.6" fill="#ff1fff"/>
<text class="w" x="1733.8" y="422.3">69.98</text>
<polygon points="1726.5,447.4 1731,438.4 1783.5,438.4 1783.5,456.7 1731,456.7" fill="#ff1f1f"/>
<text class="w" x="1733.8" y="452.4">66.83</text>
<polygon points="1739,638.4 1743.3,630 1782,630 1782,646.8 1743.3,646.8" fill="#3f4f58"/>
<text x="1745" y="642.9" font-size="12.6" fill="#fff" letter-spacing="-0.2">19.19</text>
<text class="g" x="1723.8" y="431.2" text-anchor="end">50.00% (67.91)</text>
<text class="g" x="1723.8" y="517.3" text-anchor="end">61.80% (58.92)</text>
<text class="g" x="1723.8" y="623.5" text-anchor="end">76.40% (47.80)</text>
<text class="b" transform="translate(112.0,634.7) scale(1,1.04)">(1)</text>
<text class="b" transform="translate(112.0,655.4) scale(1,1.04)">(C)</text>
<text class="b" transform="translate(82.0,721.6) scale(1,1.04)">(A)</text>
<text class="b" transform="translate(96.9,808.8) scale(1,1.04)">(B)</text>
<text class="b" transform="translate(126.3,799.4) scale(1,1.04)">A</text>
<text class="b" transform="translate(222.5,669.2) scale(1,1.04)">B</text>
<text class="b" transform="translate(286.7,816.7) scale(1,1.04)">C</text>
<text class="b" transform="translate(281.7,839.1) scale(1,1.04)">(W)</text>
<text class="b" transform="translate(327.3,687.9) scale(1,1.04)">(X)</text>
<text class="b" transform="translate(381.3,822.2) scale(1,1.04)">A</text>
<text class="b" transform="translate(442.3,696.8) scale(1,1.04)">B</text>
<text class="b" transform="translate(501.6,822.2) scale(1,1.04)">C</text>
<text class="b" transform="translate(501.6,843.4) scale(1,1.04)">(Y)</text>
<text class="b" transform="translate(501.6,865.6) scale(1,1.04)">(2)</text>
<text class="b" transform="translate(706.5,398) scale(1,1.04)">(A)</text>
<text class="b" transform="translate(837.0,731.5) scale(1,1.04)">(B)</text>
<text class="b" transform="translate(1036.7,38.7) scale(1,1.04)">(3)</text>
<text class="b" transform="translate(1036.7,60.7) scale(1,1.04)">(C)</text>
<text class="b" style="letter-spacing:0.22px" transform="translate(1072.2,490.6) scale(1,1.04)" xml:space="preserve">(4) or ( A) of (4)</text>
<text x="933" y="717.8" font-weight="bold" font-size="19" fill="#ff0000" letter-spacing="0.25">support 40.50</text>
</svg></body></html>
